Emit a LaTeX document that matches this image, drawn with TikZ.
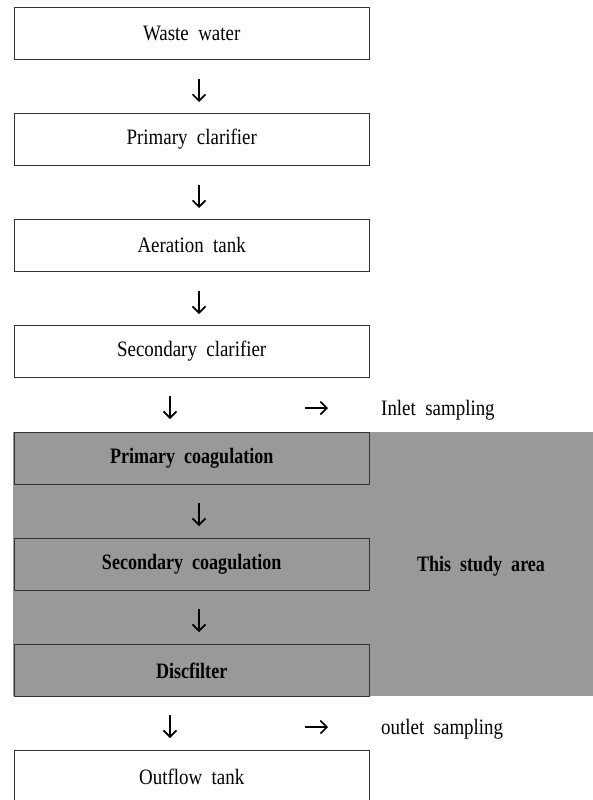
\documentclass[tikz,border=0pt]{standalone}
\usepackage{fontspec}
\setmainfont{Liberation Serif}[FakeStretch=0.86, WordSpace=2, BoldFeatures={FakeStretch=0.82}]
\usetikzlibrary{arrows.meta}
\definecolor{studygray}{HTML}{999999}
\definecolor{edgegray}{HTML}{333333}
\begin{document}
\begin{tikzpicture}[x=1pt, y=-1pt,
  stage/.style={draw=edgegray, line width=0.9pt, minimum width=355.5pt,
    minimum height=52pt, inner sep=0pt, anchor=north west,
    font=\fontsize{22}{26}\selectfont},
  studystage/.style={stage, fill=studygray,
    font=\bfseries\fontsize{22}{26}\selectfont},
  label/.style={inner sep=0pt, font=\fontsize{22}{26}\selectfont},
  flow/.style={line width=1.6pt,
    -{Straight Barb[length=6.5pt, width=13pt, line width=1.6pt]}}]
\useasboundingbox (0,0) rectangle (593,800);
\clip (0,0) rectangle (593,800);
\fill[white] (0,0) rectangle (593,800);

% shaded study area
\fill[studygray] (13,432) rectangle (593,696);
\node[label, font=\bfseries\fontsize{22}{26}\selectfont] (study) at (481,566) {This study area};

% treatment stages
\node[stage] (ww)  at (13.5,7)   {Waste water};
\node[stage] (pc)  at (13.5,113) {Primary clarifier};
\node[stage] (at)  at (13.5,219) {Aeration tank};
\node[stage] (sc)  at (13.5,325) {Secondary clarifier};
\node[studystage] (pco) at (13.5,432) {Primary coagulation};
\node[studystage] (sco) at (13.5,538) {Secondary coagulation};
\node[studystage] (df)  at (13.5,644) {Discfilter};
\node[stage] (ot)  at (13.5,750) {Outflow tank};

% sampling points
\node[label, anchor=base west] (inlet)  at (381,415) {Inlet sampling};
\node[label, anchor=base west] (outlet) at (381,734) {outlet sampling};

% flow arrows between stages
\coordinate (a1) at (199,79);  \coordinate (b1) at (199,102);
\coordinate (a2) at (199,185); \coordinate (b2) at (199,208);
\coordinate (a3) at (199,291); \coordinate (b3) at (199,314);
\coordinate (a5) at (199,503); \coordinate (b5) at (199,526);
\coordinate (a6) at (199,609); \coordinate (b6) at (199,632);
\coordinate (a4) at (170,396); \coordinate (b4) at (170,419);
\coordinate (a7) at (170,715); \coordinate (b7) at (170,738);
\foreach \i in {1,...,7} {\draw[flow] (a\i) -- (b\i);}

% arrows pointing to the sampling labels
\coordinate (ia) at (305,408); \coordinate (ib) at (328,408);
\coordinate (oa) at (305,727); \coordinate (ob) at (328,727);
\draw[flow] (ia) -- (ib);
\draw[flow] (oa) -- (ob);
\end{tikzpicture}
\end{document}
